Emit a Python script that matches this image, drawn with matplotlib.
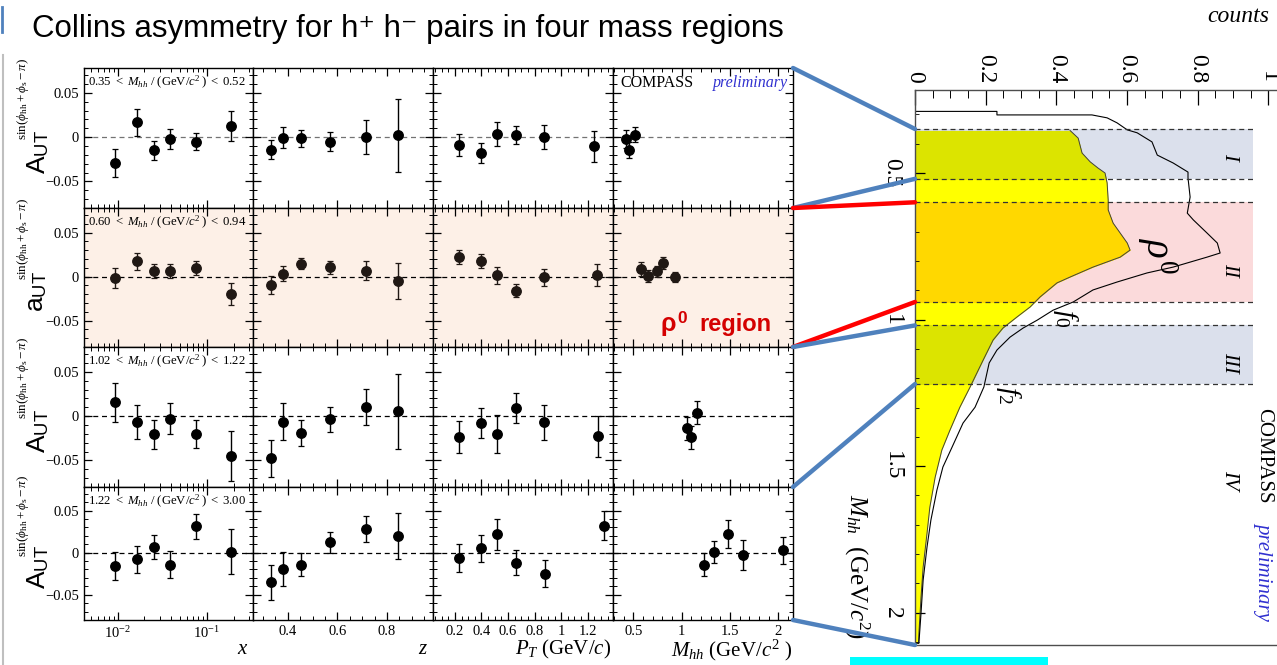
import numpy as np
import matplotlib
matplotlib.use('Agg')
import matplotlib.pyplot as plt
from matplotlib.patches import Rectangle, ConnectionPatch
from matplotlib.lines import Line2D
from matplotlib.ticker import MultipleLocator, FixedLocator, FuncFormatter

plt.rcParams['font.family'] = 'serif'
plt.rcParams['font.serif'] = ['Liberation Serif', 'DejaVu Serif']
plt.rcParams['mathtext.fontset'] = 'custom'
plt.rcParams['mathtext.rm'] = 'Liberation Serif'
plt.rcParams['mathtext.it'] = 'Liberation Serif:italic'
plt.rcParams['mathtext.bf'] = 'Liberation Serif:bold'
plt.rcParams['mathtext.sf'] = 'Liberation Sans'
plt.rcParams['mathtext.fallback'] = 'stix'

W, H = 1277, 665

# ---- data ----
mass_regions = [(0.35, 0.52), (0.60, 0.94), (1.02, 1.22), (1.22, 3.00)]
mass_labels = [('0.35', '0.52'), ('0.60', '0.94'), ('1.02', '1.22'), ('1.22', '3.00')]

x_bins = [0.0093, 0.0164, 0.0254, 0.039, 0.075, 0.186]
z_bins = [0.334, 0.381, 0.453, 0.570, 0.714, 0.846]
pt_bins = [[0.23, 0.395, 0.516, 0.659, 0.869, 1.245],
           [0.23, 0.395, 0.516, 0.659, 0.869, 1.27],
           [0.23, 0.395, 0.516, 0.659, 0.869, 1.28],
           [0.23, 0.395, 0.516, 0.659, 0.875, 1.32]]
mhh_bins = [[0.42, 0.46, 0.52],
            [0.58, 0.65, 0.74, 0.81, 0.93],
            [1.05, 1.10, 1.16],
            [1.23, 1.33, 1.48, 1.63, 2.05]]

asym_x = [[-0.029, 0.0165, -0.015, -0.0023, -0.005, 0.0128],
          [-0.0011, 0.0172, 0.0067, 0.0067, 0.0097, -0.0198],
          [0.0156, -0.0065, -0.0206, -0.0027, -0.0198, -0.0447],
          [-0.0157, -0.0078, 0.0067, -0.0141, 0.0314, 0.0012]]
err_x = [[0.016, 0.0147, 0.011, 0.011, 0.010, 0.017],
         [0.0114, 0.0093, 0.0077, 0.0082, 0.008, 0.0127],
         [0.022, 0.019, 0.0166, 0.0172, 0.0158, 0.028],
         [0.017, 0.016, 0.0137, 0.016, 0.015, 0.0267]]

asym_z = [[-0.0143, -0.0008, -0.0015, -0.005, 0.0, 0.0019],
          [-0.0097, 0.0034, 0.0146, 0.0104, 0.0067, -0.0045],
          [-0.0477, -0.0061, -0.0191, -0.0034, 0.0103, 0.0053],
          [-0.0353, -0.0196, -0.0141, 0.0122, 0.0278, 0.0196]]
err_z = [[0.0107, 0.012, 0.0098, 0.011, 0.019, 0.041],
         [0.0099, 0.0088, 0.0062, 0.0071, 0.0106, 0.0205],
         [0.021, 0.0204, 0.015, 0.014, 0.0206, 0.0424],
         [0.0206, 0.02, 0.0137, 0.0124, 0.0157, 0.027]]

asym_pt = [[-0.009, -0.0177, 0.0038, 0.0023, 0.0004, -0.0102],
           [0.0224, 0.0179, 0.0015, -0.016, -0.0007, 0.0019],
           [-0.024, -0.0076, -0.0202, 0.0095, -0.0069, -0.0229],
           [-0.0063, 0.0051, 0.0216, -0.0118, -0.0251, 0.0322]]
err_pt = [[0.0126, 0.0113, 0.0134, 0.0103, 0.0135, 0.0175],
          [0.0075, 0.0077, 0.0097, 0.0075, 0.0099, 0.0123],
          [0.018, 0.0168, 0.021, 0.017, 0.0195, 0.0233],
          [0.017, 0.0163, 0.0187, 0.0147, 0.016, 0.017]]

asym_m = [[-0.0023, -0.0143, 0.0026],
          [0.0086, 0.0007, 0.006, 0.0157, -0.0007],
          [-0.0137, -0.0237, 0.0038],
          [-0.0141, 0.0008, 0.022, -0.0031, 0.0027]]
err_m = [[0.01, 0.009, 0.0085],
         [0.008, 0.007, 0.006, 0.007, 0.0057],
         [0.013, 0.013, 0.013],
         [0.0137, 0.0125, 0.0167, 0.018, 0.0157]]

# invariant mass spectrum (rotated plot on the right)
mhh_all = [0.290, 0.302, 0.302, 0.312, 0.329, 0.353, 0.363, 0.394, 0.439, 0.466, 0.497,
           0.517, 0.582, 0.637, 0.660, 0.705, 0.739, 0.773, 0.787, 0.821, 0.841, 0.872,
           0.899, 0.940, 0.968, 1.002, 1.029, 1.060, 1.104, 1.148, 1.230, 1.299, 1.353,
           1.435, 1.503, 1.582, 1.684, 1.776, 1.889, 2.002, 2.104]
counts_all = [0.232, 0.232, 0.501, 0.544, 0.572, 0.601, 0.629, 0.671, 0.686, 0.731, 0.773,
              0.773, 0.779, 0.771, 0.788, 0.827, 0.856, 0.864, 0.827, 0.731, 0.657, 0.572,
              0.504, 0.448, 0.391, 0.346, 0.306, 0.269, 0.232, 0.210, 0.195, 0.170, 0.136,
              0.105, 0.079, 0.062, 0.045, 0.034, 0.023, 0.017, 0.011]
mhh_sel = [0.355, 0.381, 0.432, 0.462, 0.483, 0.500, 0.534, 0.592, 0.626, 0.671, 0.705,
           0.739, 0.763, 0.787, 0.821, 0.855, 0.875, 0.923, 0.957, 0.991, 1.029, 1.070,
           1.138, 1.230, 1.299, 1.377, 1.445, 1.538, 1.640, 1.729, 1.845, 1.947, 2.070, 2.104]
counts_sel = [0.439, 0.462, 0.473, 0.496, 0.518, 0.538, 0.544, 0.547, 0.547, 0.561, 0.581,
              0.601, 0.609, 0.581, 0.504, 0.439, 0.402, 0.354, 0.326, 0.289, 0.249, 0.221,
              0.193, 0.156, 0.127, 0.099, 0.076, 0.057, 0.042, 0.034, 0.023, 0.017, 0.011, 0.010]
region_names = ['I', 'II', 'III', 'IV']

fig = plt.figure(figsize=(W / 100, H / 100), dpi=100)


def px_axes(x0, y0, x1, y1):
    return fig.add_axes([x0 / W, 1 - y1 / H, (x1 - x0) / W, (y1 - y0) / H])


def num_fmt(v, _):
    if abs(v) < 1e-9:
        return '0'
    return ('%g' % v).replace('-', '\u2212')


col_px = [84, 253, 433, 613, 793]
row_px = [68, 208, 347, 487, 620]

columns = [([x_bins] * 4, asym_x, err_x), ([z_bins] * 4, asym_z, err_z),
           (pt_bins, asym_pt, err_pt), (mhh_bins, asym_m, err_m)]
xlims = [(0.0042, 0.33), (0.26, 0.985), (0.035, 1.39), (0.29, 2.15)]
xlabels = [r'$x$', r'$z$', r'$P_T$ (GeV/$c$)', r'$M_{hh}$ (GeV/$c^2$ )']
xlabel_pos = [0.97, 0.97, 0.99, 0.995]

axes = [[None] * 4 for _ in range(4)]
for r in range(4):
    for c in range(4):
        ax = px_axes(col_px[c], row_px[r], col_px[c + 1], row_px[r + 1])
        axes[r][c] = ax
        xs_all, ys_all, es_all = columns[c]
        mc = '#201814' if r == 1 else 'black'
        if r == 1:
            ax.set_facecolor('#fdf0e7')
        ax.axhline(0, ls=(0, (4, 3)), lw=0.9, color='0.45' if r == 0 else 'black', zorder=1)
        ax.errorbar(xs_all[r], ys_all[r], yerr=es_all[r], fmt='o', ms=6.8, color=mc,
                    ecolor=mc, elinewidth=1.0, capsize=2.2, capthick=0.9, zorder=3)
        if c == 0:
            ax.set_xscale('log')
        ax.set_xlim(*xlims[c])
        ax.set_ylim(-0.08, 0.078)
        ax.yaxis.set_major_locator(MultipleLocator(0.05))
        ax.yaxis.set_minor_locator(MultipleLocator(0.01))
        ax.yaxis.set_major_formatter(FuncFormatter(num_fmt))
        if c in (1, 2):
            ax.xaxis.set_major_locator(MultipleLocator(0.2))
            ax.xaxis.set_minor_locator(MultipleLocator(0.05))
        elif c == 3:
            ax.xaxis.set_major_locator(MultipleLocator(0.5))
            ax.xaxis.set_minor_locator(MultipleLocator(0.1))
        if c > 0:
            ax.xaxis.set_major_formatter(FuncFormatter(num_fmt))
        ax.tick_params(which='both', direction='in', top=True, right=True, labelsize=10.5)
        ax.tick_params(which='major', length=6, width=0.9)
        ax.tick_params(which='minor', length=3, width=0.7)
        ax.tick_params(labelleft=(c == 0), labelbottom=(r == 3))
        for sp in ax.spines.values():
            sp.set_linewidth(1.0)
        if c == 0:
            lo, hi = mass_labels[r]
            ax.text(0.025, 0.955,
                    r'$\mathit{%s}\ <\ M_{hh}\ /\ (\mathrm{GeV}/c^2\,)\ <\ \mathit{%s}$' % (lo, hi),
                    transform=ax.transAxes, ha='left', va='top', fontsize=9.2)
            letter = 'a' if r == 1 else 'A'
            ax.text(-0.27, 0.40, r'$\mathsf{%s}_{\mathsf{UT}}$' % letter, transform=ax.transAxes,
                    rotation=90, ha='center', va='center', fontsize=19)
            ax.text(-0.36, 0.78, r'$\mathrm{sin}(\phi_{\mathrm{hh}}+\phi_{\mathrm{s}}-\pi)$',
                    transform=ax.transAxes, rotation=90, ha='center', va='center', fontsize=9.5)
        if r == 3:
            ax.text(xlabel_pos[c], -0.225, xlabels[c], transform=ax.transAxes,
                    ha='right', va='center', fontsize=15)

axes[0][3].text(0.04, 0.95, 'COMPASS', transform=axes[0][3].transAxes, ha='left', va='top',
                fontsize=11.5)
axes[0][3].text(0.975, 0.95, 'preliminary', transform=axes[0][3].transAxes, ha='right',
                va='top', fontsize=11.5, style='italic', color='#3030d0')

# "rho^0 region" label built from three pieces so the superscript is a real raised 0
red_kw = dict(fontweight='bold', color='#d40000', family=['Liberation Sans', 'DejaVu Sans'])
t_reg = axes[1][3].text(0.88, 0.08, 'region', transform=axes[1][3].transAxes, ha='right',
                        va='bottom', fontsize=17, **red_kw)
t_sup = axes[1][3].annotate('0', xy=(0, 1), xycoords=t_reg, xytext=(-9, 1),
                            textcoords='offset points', ha='right', va='top', fontsize=12.5, **red_kw)
axes[1][3].annotate('\u03c1', xy=(0, 0), xycoords=(t_sup, t_reg), xytext=(-0.5, 0),
                    textcoords='offset points', ha='right', va='bottom', fontsize=18, **red_kw)

# ---- rotated mass spectrum ----
hist = px_axes(915, 90, 1277, 645)
hist.set_xlim(0, 1.025)
hist.set_ylim(2.11, 0.217)
band_right = 0.957
band_colors = ['#dbe0ec', '#fbdadb', '#dbe0ec']
fill_colors = ['#dce400', '#ffd800', '#dce400']
for (m0, m1), bc in zip(mass_regions[:3], band_colors):
    hist.axhspan(m0, m1, xmin=0, xmax=band_right / 1.025, color=bc, lw=0, zorder=0.5)
hist.fill_betweenx(mhh_sel, 0, counts_sel, color='#ffff00', lw=0, zorder=1)
for (m0, m1), fc in zip(mass_regions[:3], fill_colors):
    poly = hist.fill_betweenx(mhh_sel, 0, counts_sel, color=fc, lw=0, zorder=1.1)
    poly.set_clip_path(Rectangle((0, m0), 1.1, m1 - m0, transform=hist.transData))
hist.plot(counts_sel, mhh_sel, color='0.25', lw=0.7, zorder=2)
hist.fill_betweenx(mhh_all, 0, counts_all, facecolor='none', edgecolor='black', lw=0.8, zorder=2)
bounds = sorted(set([m for reg in mass_regions[:3] for m in reg]))
hist.hlines(bounds, 0, band_right, colors='0.2', linestyles=(0, (4, 3)), lw=0.9, zorder=2.5)

name_pos = [0.445, 0.83, 1.145, 1.548]
for nm, mp in zip(region_names, name_pos):
    hist.text(0.89, mp, nm, rotation=-90, style='italic', fontsize=15, ha='center', va='center')
hist.text(0.686, 0.783, r'$\rho^0$', rotation=-90, fontsize=28, ha='center', va='center')
hist.text(0.425, 0.995, r'$f_0$', rotation=-90, fontsize=20, ha='center', va='center')
hist.text(0.266, 1.258, r'$f_2$', rotation=-90, fontsize=20, ha='center', va='center')
hist.text(0.986, 1.30, 'COMPASS', rotation=-90, fontsize=15, ha='center', va='top')
hist.text(0.986, 1.69, 'preliminary', rotation=-90, fontsize=15, ha='center', va='top',
          style='italic', color='#3030d0')

hist.xaxis.tick_top()
hist.xaxis.set_major_locator(MultipleLocator(0.2))
hist.xaxis.set_minor_locator(MultipleLocator(0.05))
hist.xaxis.set_major_formatter(FuncFormatter(num_fmt))
hist.yaxis.set_major_locator(MultipleLocator(0.5))
hist.yaxis.set_minor_locator(MultipleLocator(0.1))
hist.yaxis.set_major_formatter(FuncFormatter(num_fmt))
hist.tick_params(axis='x', which='both', direction='in', top=True, bottom=False,
                 labelsize=17, labelrotation=-90, pad=5)
hist.tick_params(axis='x', which='major', length=11, width=0.9)
hist.tick_params(axis='x', which='minor', length=6, width=0.7)
hist.tick_params(axis='y', which='both', direction='in', left=True, right=False,
                 labelsize=17, labelrotation=-90, pad=9)
hist.tick_params(axis='y', which='major', length=7, width=0.9)
hist.tick_params(axis='y', which='minor', length=3, width=0.6)
for lbl in hist.get_yticklabels():
    lbl.set_va('center')
hist.spines['right'].set_visible(False)
for sp in ['left', 'top', 'bottom']:
    hist.spines[sp].set_color('0.3')
    hist.spines[sp].set_linewidth(1.0)

fig.text(857 / W, 1 - 566 / H, r'$M_{hh}$  (GeV/$c^2$)', rotation=-90, fontsize=18,
         ha='center', va='center')
fig.text(1207 / W, 1 - 22 / H, 'counts', style='italic', fontsize=17, ha='left', va='baseline')

# ---- connector lines from asymmetry rows to mass regions ----
link_row = [0, 0, 1, 1, 2, 2, 3]
link_side = [1, 0, 1, 0, 1, 0, 0]
link_mass = [0.35, 0.52, 0.60, 0.94, 1.02, 1.22, hist.get_ylim()[0]]
link_color = ['#4f81bd', '#4f81bd', '#ff0000', '#ff0000', '#4f81bd', '#4f81bd', '#4f81bd']
for rr, sd, mm, lc in zip(link_row, link_side, link_mass, link_color):
    con = ConnectionPatch(xyA=(1, sd), coordsA=axes[rr][3].transAxes, xyB=(0, mm),
                          coordsB=hist.transData, color=lc, lw=3.2, zorder=5)
    fig.add_artist(con)

# ---- slide decorations ----
fig.text(32 / W, 1 - 37 / H, 'Collins asymmetry for h\u207a h\u207b pairs in four mass regions',
         fontsize=22.5, ha='left', va='baseline', family=['Liberation Sans', 'DejaVu Sans'])
fig.add_artist(Line2D([2 / W, 2 / W], [1 - 7 / H, 1 - 32 / H], color='#4f81bd', lw=2))
fig.add_artist(Line2D([3 / W, 3 / W], [0, 1 - 55 / H], color='0.75', lw=1.5))
fig.add_artist(Rectangle((850 / W, 0), 198 / W, 8 / H, color='#00ffff', lw=0))

fig.savefig('out.png', dpi=100)
